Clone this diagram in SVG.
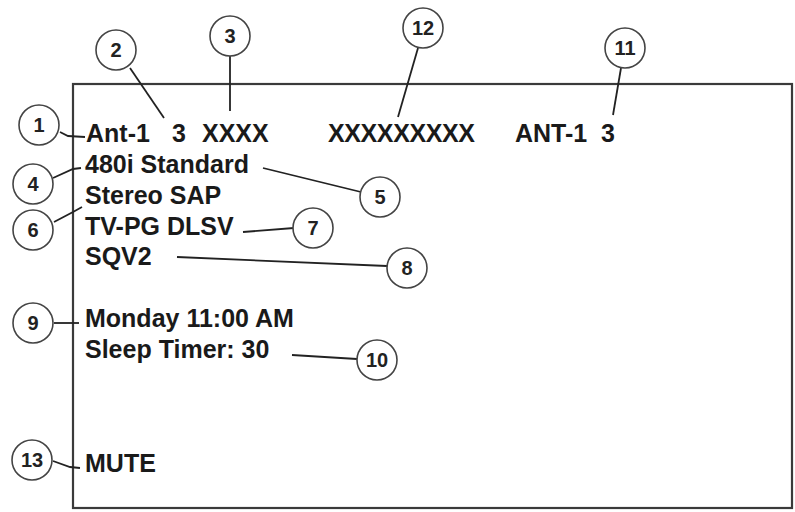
<svg xmlns="http://www.w3.org/2000/svg" width="795" height="512" viewBox="0 0 795 512">
<style>
.screen{fill:#fff;stroke:#3a3a3a;stroke-width:2.2}
.c{fill:#fff;stroke:#444;stroke-width:1.6}
.n{font-family:"Liberation Sans",Arial,sans-serif;font-size:20px;font-weight:bold;fill:#222;text-anchor:middle}
.t{font-family:"Liberation Sans",Arial,sans-serif;font-size:25px;font-weight:bold;fill:#1a1a1a}
.l{fill:none;stroke:#222;stroke-width:1.8}
</style>
<rect width="795" height="512" fill="#fff"/>
<rect id="screen" class="screen" x="73" y="84" width="719" height="424"/>
<g id="texts">
<text class="t" x="86" y="142">Ant-1</text>
<text class="t" x="172" y="142">3</text>
<text class="t" x="202" y="142">XXXX</text>
<text class="t" x="328" y="142" textLength="147">XXXXXXXXX</text>
<text class="t" x="515" y="142">ANT-1</text>
<text class="t" x="601" y="142">3</text>
<text class="t" x="85" y="173">480i Standard</text>
<text class="t" x="85" y="204">Stereo SAP</text>
<text class="t" x="85" y="235">TV-PG DLSV</text>
<text class="t" x="85" y="265">SQV2</text>
<text class="t" x="85" y="327">Monday 11:00 AM</text>
<text class="t" x="85" y="358">Sleep Timer: 30</text>
<text class="t" x="85" y="472">MUTE</text>
</g>
<g id="connectors">
<polyline class="l" points="60,132 68,136 85,137"/>
<line class="l" x1="130" y1="68" x2="164" y2="118"/>
<line class="l" x1="230" y1="56" x2="230" y2="111"/>
<line class="l" x1="418" y1="48" x2="398" y2="117"/>
<line class="l" x1="621" y1="68" x2="613" y2="115"/>
<polyline class="l" points="53,178 73,169 81,168"/>
<line class="l" x1="263" y1="168" x2="361" y2="192"/>
<polyline class="l" points="54,222 73,212 82,207"/>
<line class="l" x1="243" y1="232" x2="294" y2="228"/>
<line class="l" x1="177" y1="257" x2="387" y2="266"/>
<line class="l" x1="54" y1="323" x2="79" y2="323"/>
<line class="l" x1="292" y1="355" x2="357" y2="359"/>
<polyline class="l" points="53,461 70,467 80,468"/>
</g>
<g id="c1"><circle class="c" cx="39" cy="125" r="20"/><text class="n" x="39" y="132">1</text></g>
<g id="c2"><circle class="c" cx="116" cy="50" r="20"/><text class="n" x="116" y="57">2</text></g>
<g id="c3"><circle class="c" cx="230" cy="36" r="20"/><text class="n" x="230" y="43">3</text></g>
<g id="c4"><circle class="c" cx="33" cy="184" r="20"/><text class="n" x="33" y="191">4</text></g>
<g id="c5"><circle class="c" cx="380" cy="197" r="20"/><text class="n" x="380" y="204">5</text></g>
<g id="c6"><circle class="c" cx="33" cy="230" r="20"/><text class="n" x="33" y="237">6</text></g>
<g id="c7"><circle class="c" cx="313" cy="228" r="20"/><text class="n" x="313" y="235">7</text></g>
<g id="c8"><circle class="c" cx="407" cy="268" r="20"/><text class="n" x="407" y="275">8</text></g>
<g id="c9"><circle class="c" cx="33" cy="323" r="20"/><text class="n" x="33" y="330">9</text></g>
<g id="c10"><circle class="c" cx="377" cy="360" r="20"/><text class="n" x="377" y="367">10</text></g>
<g id="c11"><circle class="c" cx="625" cy="48" r="20"/><text class="n" x="625" y="55">11</text></g>
<g id="c12"><circle class="c" cx="423" cy="28" r="20"/><text class="n" x="423" y="35">12</text></g>
<g id="c13"><circle class="c" cx="32" cy="460" r="20"/><text class="n" x="32" y="467">13</text></g>
</svg>
